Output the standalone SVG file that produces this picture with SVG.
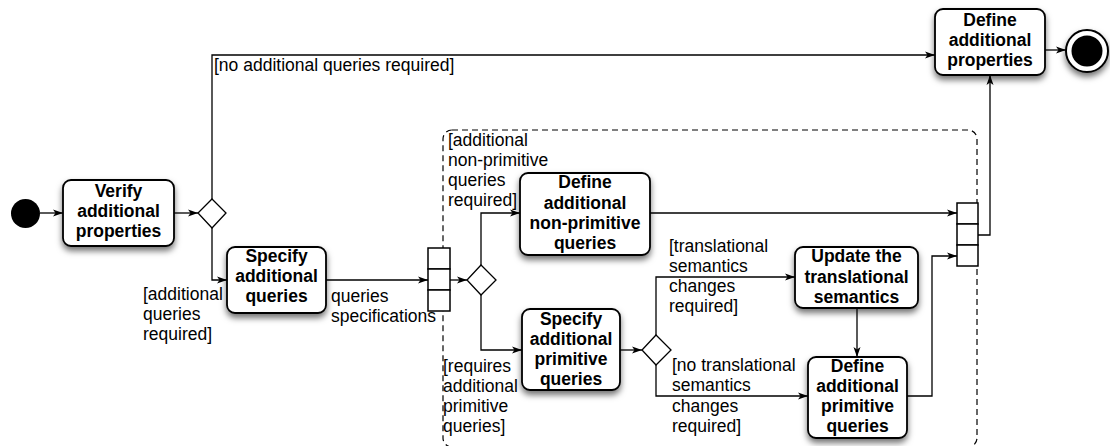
<svg xmlns="http://www.w3.org/2000/svg" width="1110" height="446" viewBox="0 0 1110 446">
  <style>
    .act { fill: #fff; stroke: #000; stroke-width: 1.8; filter: url(#shadow); }
    .nt { font-family: "Liberation Sans", Arial, sans-serif; font-size: 17.5px; font-weight: bold; text-anchor: middle; fill: #000; }
    .lbl { font-family: "Liberation Sans", Arial, sans-serif; font-size: 17.5px; fill: #000; }
    .edge { fill: none; stroke: #000; stroke-width: 1.3; marker-end: url(#arrow); }
    .dec { fill: #fff; stroke: #000; stroke-width: 1.3; }
    .pin { fill: #fff; stroke: #000; stroke-width: 1.5; }
  </style>
  <defs>
    <filter id="shadow" x="-20%" y="-20%" width="140%" height="150%">
      <feDropShadow dx="0" dy="4" stdDeviation="3" flood-color="#000" flood-opacity="0.55"/>
    </filter>
    <marker id="arrow" viewBox="0 0 10 8" refX="10" refY="4" markerWidth="10" markerHeight="8" markerUnits="userSpaceOnUse" orient="auto">
      <path d="M0,0.5 L10,4 L0,7.5 L2.5,4 z" fill="#000"/>
    </marker>
  </defs>

  <!-- region enclosing the query definition activities -->
  <rect id="region" x="443" y="130" width="534" height="317" rx="9" fill="none" stroke="#000" stroke-width="1.2" stroke-dasharray="6 4"/>

  <g id="connectors">
    <path class="edge" d="M40,213 L63,213"/>
    <path class="edge" d="M174,213 L198,213"/>
    <path class="edge" d="M212,199 L212,55 L935,55"/>
    <path class="edge" d="M212,228 L212,280 L227,280"/>
    <path class="edge" d="M326,280 L428,280"/>
    <path class="edge" d="M450,280 L467,280"/>
    <path class="edge" d="M481,265 L481,213 L520,213"/>
    <path class="edge" d="M481,295 L481,350 L522,350"/>
    <path class="edge" d="M620,350 L642,350"/>
    <path class="edge" d="M656,335 L656,277 L795,277"/>
    <path class="edge" d="M656,365 L656,396 L808,396"/>
    <path class="edge" d="M857,308 L857,357"/>
    <path class="edge" d="M650,213 L957,213"/>
    <path class="edge" d="M907,396 L932,396 L932,256 L957,256"/>
    <path class="edge" d="M978,235 L990,235 L990,75"/>
    <path class="edge" d="M1045,50 L1066,50"/>
  </g>

  <g id="guards">
    <text class="lbl" x="214" y="71">[no additional queries required]</text>
    <text class="lbl" x="143" y="300">[additional</text>
    <text class="lbl" x="143" y="320">queries</text>
    <text class="lbl" x="143" y="340">required]</text>
    <text class="lbl" x="331" y="302">queries</text>
    <text class="lbl" x="331" y="322">specifications</text>
    <text class="lbl" x="448" y="146">[additional</text>
    <text class="lbl" x="448" y="166">non-primitive</text>
    <text class="lbl" x="448" y="186">queries</text>
    <text class="lbl" x="448" y="206">required]</text>
    <text class="lbl" x="443" y="372">[requires</text>
    <text class="lbl" x="443" y="392">additional</text>
    <text class="lbl" x="443" y="412">primitive</text>
    <text class="lbl" x="443" y="432">queries]</text>
    <text class="lbl" x="669" y="252">[translational</text>
    <text class="lbl" x="669" y="272">semantics</text>
    <text class="lbl" x="669" y="292">changes</text>
    <text class="lbl" x="669" y="312">required]</text>
    <text class="lbl" x="672" y="371">[no translational</text>
    <text class="lbl" x="672" y="391">semantics</text>
    <text class="lbl" x="672" y="412">changes</text>
    <text class="lbl" x="672" y="432">required]</text>
  </g>

  <g id="initial">
    <circle cx="25.5" cy="213.5" r="14.5" fill="#000"/>
  </g>

  <g id="verify-properties">
    <rect class="act" x="63" y="180" width="111" height="66" rx="8"/>
    <text class="nt" x="118.5" y="197">Verify</text>
    <text class="nt" x="118.5" y="217">additional</text>
    <text class="nt" x="118.5" y="237">properties</text>
  </g>

  <g id="decision-queries">
    <path class="dec" d="M212,199 L226,213 L212,228 L198,213 z"/>
  </g>

  <g id="specify-queries">
    <rect class="act" x="227" y="247" width="99" height="66" rx="8"/>
    <text class="nt" x="276.5" y="262">Specify</text>
    <text class="nt" x="276.5" y="282">additional</text>
    <text class="nt" x="276.5" y="302">queries</text>
  </g>

  <g id="fork-pins">
    <rect class="pin" x="428" y="248" width="22" height="21"/>
    <rect class="pin" x="428" y="269" width="22" height="21"/>
    <rect class="pin" x="428" y="290" width="22" height="21"/>
  </g>

  <g id="decision-kind">
    <path class="dec" d="M481,265 L496,280 L481,295 L467,280 z"/>
  </g>

  <g id="define-nonprimitive">
    <rect class="act" x="520" y="173" width="130" height="82" rx="8"/>
    <text class="nt" x="585" y="188">Define</text>
    <text class="nt" x="585" y="208.5">additional</text>
    <text class="nt" x="585" y="228.5">non-primitive</text>
    <text class="nt" x="585" y="249">queries</text>
  </g>

  <g id="specify-primitive">
    <rect class="act" x="522" y="309" width="98" height="81" rx="8"/>
    <text class="nt" x="571" y="325">Specify</text>
    <text class="nt" x="571" y="345">additional</text>
    <text class="nt" x="571" y="365">primitive</text>
    <text class="nt" x="571" y="385">queries</text>
  </g>

  <g id="decision-semantics">
    <path class="dec" d="M656,335 L671,350 L656,365 L642,350 z"/>
  </g>

  <g id="update-semantics">
    <rect class="act" x="795" y="247" width="123" height="61" rx="8"/>
    <text class="nt" x="856.5" y="262">Update the</text>
    <text class="nt" x="856.5" y="283">translational</text>
    <text class="nt" x="856.5" y="303">semantics</text>
  </g>

  <g id="define-primitive">
    <rect class="act" x="808" y="357" width="99" height="81" rx="8"/>
    <text class="nt" x="857.5" y="372">Define</text>
    <text class="nt" x="857.5" y="392">additional</text>
    <text class="nt" x="857.5" y="412">primitive</text>
    <text class="nt" x="857.5" y="432">queries</text>
  </g>

  <g id="join-pins">
    <rect class="pin" x="957" y="203" width="21" height="21"/>
    <rect class="pin" x="957" y="224" width="21" height="21"/>
    <rect class="pin" x="957" y="245" width="21" height="21"/>
  </g>

  <g id="define-properties">
    <rect class="act" x="935" y="9" width="110" height="66" rx="8"/>
    <text class="nt" x="990" y="26">Define</text>
    <text class="nt" x="990" y="46">additional</text>
    <text class="nt" x="990" y="66">properties</text>
  </g>

  <g id="final">
    <circle cx="1087" cy="51" r="21" fill="#fff" stroke="#000" stroke-width="2" filter="url(#shadow)"/>
    <circle cx="1087" cy="51" r="15.5" fill="#000"/>
  </g>
</svg>
